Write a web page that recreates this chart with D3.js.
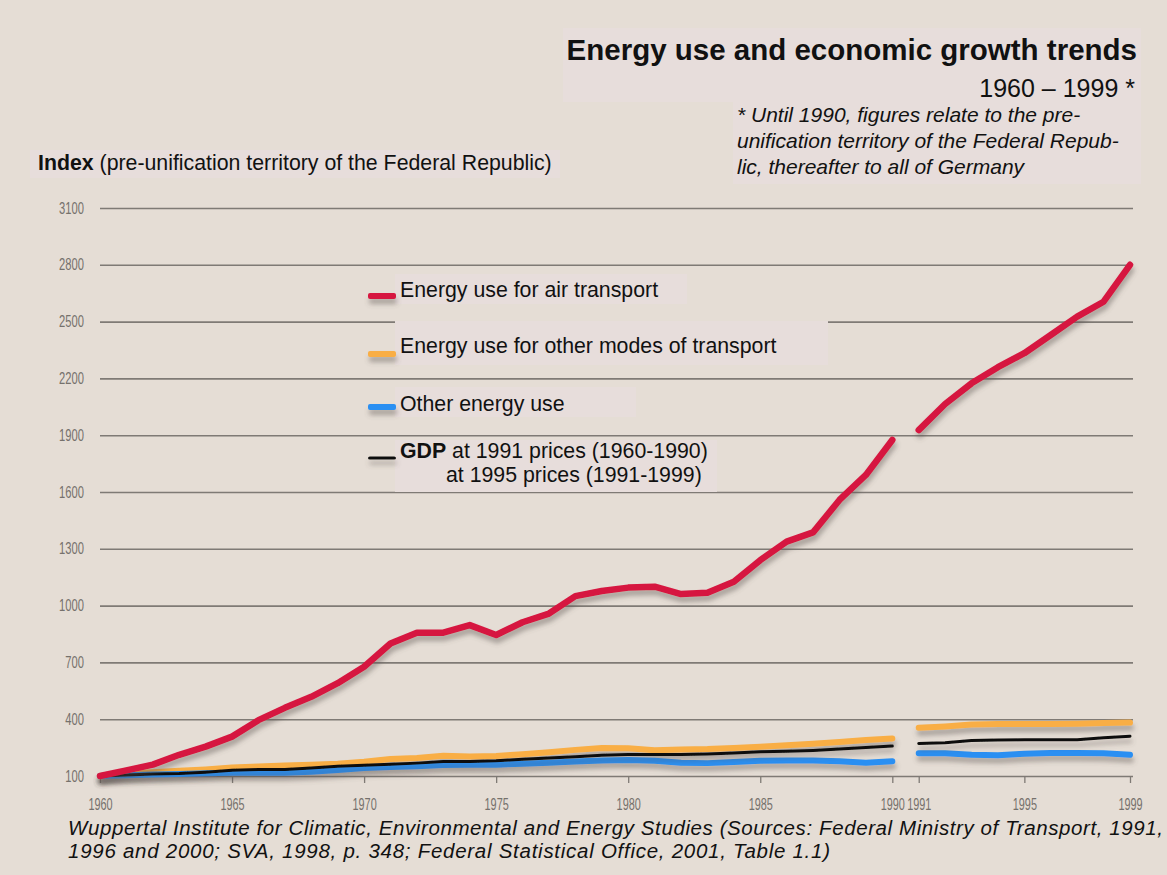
<!DOCTYPE html>
<html>
<head>
<meta charset="utf-8">
<script src="https://cdn.jsdelivr.net/npm/d3@7"></script>
<style>
  body { margin: 0; background: #e5ddd5; }
  svg { display: block; font-family: "Liberation Sans", Arial, sans-serif; }
</style>
</head>
<body>
<script>
// chart size
const width = 1167, height = 875;

// years: two segments, the break marks unification
const years1 = d3.range(1960, 1991);
const years2 = d3.range(1991, 2000);

// index values (1960 = 100)
const airTransport1 = [100, 130, 160, 212, 255, 308, 395, 460, 518, 590, 677, 800, 857, 857, 897, 845,
  912, 958, 1050, 1077, 1095, 1100, 1061, 1068, 1126, 1240, 1338, 1387, 1558, 1690, 1875];
const airTransport2 = [1927, 2065, 2174, 2259, 2333, 2429, 2526, 2605, 2800];

const otherTransport1 = [100, 112, 120, 128, 135, 145, 150, 155, 160, 165, 175, 190, 195, 207, 203, 206,
  215, 225, 238, 248, 246, 236, 240, 242, 248, 255, 262, 270, 280, 290, 298];
const otherTransport2 = [355, 362, 372, 374, 375, 375, 376, 380, 382];

const otherEnergy1 = [100, 104, 108, 110, 114, 117, 117, 117, 122, 132, 142, 148, 152, 158, 160, 160,
  165, 170, 176, 182, 185, 180, 170, 168, 174, 180, 182, 182, 178, 170, 178];
const otherEnergy2 = [220, 220, 212, 210, 218, 222, 222, 220, 212];

const gdp1 = [100, 105, 110, 113, 120, 130, 134, 134, 142, 152, 157, 162, 168, 176, 177, 180,
  189, 195, 202, 210, 213, 213, 213, 216, 222, 228, 231, 235, 242, 250, 258];
const gdp2 = [272, 275, 288, 290, 291, 291, 292, 302, 310];

// ticks
const yTicks = [100, 400, 700, 1000, 1300, 1600, 1900, 2200, 2500, 2800, 3100];
const xTicks = [1960, 1965, 1970, 1975, 1980, 1985, 1990, 1991, 1995, 1999];

// legend labels
const legendLabels = ["Energy use for air transport", "Energy use for other modes of transport", "Other energy use", "GDP"];

const svg = d3.select("body").append("svg")
    .attr("width", width)
    .attr("height", height);

svg.append("rect").attr("width", width).attr("height", height).attr("fill", "#e5ddd5");

// soft grey shadow under the lines
const defs = svg.append("defs");
defs.append("filter")
    .attr("id", "shadow")
    .attr("filterUnits", "userSpaceOnUse")
    .attr("x", 0).attr("y", 0).attr("width", width).attr("height", height)
  .append("feDropShadow")
    .attr("dx", 1).attr("dy", 5).attr("stdDeviation", 2.5)
    .attr("flood-color", "#5a5550").attr("flood-opacity", 0.45);

const x = d3.scaleLinear().domain([1960, 1999]).range([100, 1130]);
const y = d3.scaleLinear().domain([100, 3100]).range([776, 208]);

// light boxes behind the texts
const boxFill = "#e7dddb";
svg.append("rect").attr("x", 563).attr("y", 28).attr("width", 578).attr("height", 74).attr("fill", boxFill);
svg.append("rect").attr("x", 733).attr("y", 100).attr("width", 408).attr("height", 84).attr("fill", boxFill);
svg.append("rect").attr("x", 30).attr("y", 150).attr("width", 530).attr("height", 28).attr("fill", boxFill);

// tick label look: grey, narrow
const tickStyle = t => t
    .style("font-family", "'Liberation Sans', Arial, sans-serif")
    .style("font-size", "16px")
    .style("fill", "#75716c");

// horizontal grid + y labels
svg.append("g")
    .attr("class", "grid")
    .attr("transform", "translate(100,0)")
    .call(d3.axisLeft(y).tickValues(yTicks).tickSize(-1033).tickPadding(16).tickFormat(d3.format("d")))
    .call(g => g.select(".domain").remove())
    .call(g => g.selectAll(".tick line").attr("stroke", "#7f7a75").attr("stroke-width", 1.6))
    .call(g => g.selectAll(".tick text").attr("x", 0)
        .attr("transform", "translate(-16,0) scale(0.7,1)").call(tickStyle));

// x axis ticks
svg.append("g")
    .attr("class", "xaxis")
    .attr("transform", "translate(0,776)")
    .call(d3.axisBottom(x).tickValues(xTicks).tickSize(7).tickPadding(16).tickFormat(d3.format("d")))
    .call(g => g.select(".domain").remove())
    .call(g => g.selectAll(".tick line").attr("stroke", "#7f7a75").attr("stroke-width", 1.3))
    .call(g => g.selectAll(".tick text").attr("transform", "scale(0.68,1)").call(tickStyle));

// legend boxes (they hide part of the grid)
const legendBoxes = [[395, 274, 292, 30], [395, 321, 433, 44], [395, 387, 241, 30], [395, 440, 322, 52]];
svg.selectAll(".lbox")
  .data(legendBoxes)
  .enter().append("rect")
    .attr("class", "lbox")
    .attr("x", d => d[0]).attr("y", d => d[1])
    .attr("width", d => d[2]).attr("height", d => d[3])
    .attr("fill", boxFill);

const line = d3.line().x(d => x(d[0])).y(d => y(d[1]));

const series = [
  { name: "other", color: "#f9ae45", width: 6, segs: [otherTransport1, otherTransport2] },
  { name: "energy", color: "#2a8ff2", width: 6, segs: [otherEnergy1, otherEnergy2] },
  { name: "gdp", color: "#111111", width: 3, segs: [gdp1, gdp2] },
  { name: "air", color: "#d6163f", width: 6.5, segs: [airTransport1, airTransport2] }
];

series.forEach(s => {
  [years1, years2].forEach((yrs, i) => {
    svg.append("path")
        .datum(yrs.map((yr, j) => [yr, s.segs[i][j]]))
        .attr("fill", "none")
        .attr("stroke", s.color)
        .attr("stroke-width", s.width)
        .attr("stroke-linejoin", "round")
        .attr("stroke-linecap", "round")
        .attr("filter", "url(#shadow)")
        .attr("d", line);
  });
});

// legend
const legendRows = [
  { label: legendLabels[0], color: "#d6163f", w: 6, ly: 296, ty: 297 },
  { label: legendLabels[1], color: "#f9ae45", w: 6, ly: 354, ty: 353 },
  { label: legendLabels[2], color: "#2a8ff2", w: 6, ly: 407, ty: 411 },
  { label: legendLabels[3], color: "#111111", w: 3, ly: 458, ty: 458 }
];
svg.selectAll(".swatch")
  .data(legendRows)
  .enter().append("rect")
    .attr("class", "swatch")
    .attr("x", 368).attr("width", 28)
    .attr("y", d => d.ly - d.w / 2).attr("height", d => d.w)
    .attr("rx", 2)
    .attr("fill", d => d.color)
    .attr("filter", "url(#shadow)");
svg.selectAll(".ltext")
  .data(legendRows.slice(0, 3))
  .enter().append("text")
    .attr("x", 400).attr("y", d => d.ty)
    .attr("font-size", 21.3).attr("fill", "#111")
    .text(d => d.label);

const gdpText = svg.append("text").attr("x", 400).attr("y", 458).attr("font-size", 21.3).attr("fill", "#111");
gdpText.append("tspan").attr("font-weight", "bold").text("GDP");
gdpText.append("tspan").text(" at 1991 prices (1960-1990)");
svg.append("text").attr("x", 446).attr("y", 482).attr("font-size", 21.3).attr("fill", "#111")
    .text("at 1995 prices (1991-1999)");

// titles
svg.append("text").attr("x", 1137).attr("y", 60).attr("text-anchor", "end")
    .attr("font-size", 29.5).attr("font-weight", "bold").attr("fill", "#111")
    .text("Energy use and economic growth trends");
svg.append("text").attr("x", 1135).attr("y", 97).attr("text-anchor", "end")
    .attr("font-size", 25).attr("fill", "#111")
    .text("1960 – 1999 *");

const note = ["* Until 1990, figures relate to the pre-", "unification territory of the Federal Repub-", "lic, thereafter to all of Germany"];
svg.selectAll(".note")
  .data(note)
  .enter().append("text")
    .attr("x", 737).attr("y", (d, i) => 122 + i * 26)
    .attr("font-size", 21).attr("font-style", "italic").attr("fill", "#111")
    .text(d => d);

const idx = svg.append("text").attr("x", 38).attr("y", 170).attr("font-size", 21.3).attr("fill", "#111");
idx.append("tspan").attr("font-weight", "bold").text("Index");
idx.append("tspan").text(" (pre-unification territory of the Federal Republic)");

// source
const source = ["Wuppertal Institute for Climatic, Environmental and Energy Studies (Sources: Federal Ministry of Transport, 1991,",
  "1996 and 2000; SVA, 1998, p. 348; Federal Statistical Office, 2001, Table 1.1)"];
const sourceLen = [1095, 762];
svg.selectAll(".src")
  .data(source)
  .enter().append("text")
    .attr("x", 68).attr("y", (d, i) => 835 + i * 23)
    .attr("font-size", 20.5).attr("font-style", "italic").attr("fill", "#111")
    .attr("textLength", (d, i) => sourceLen[i]).attr("lengthAdjust", "spacing")
    .text(d => d);
</script>
</body>
</html>
